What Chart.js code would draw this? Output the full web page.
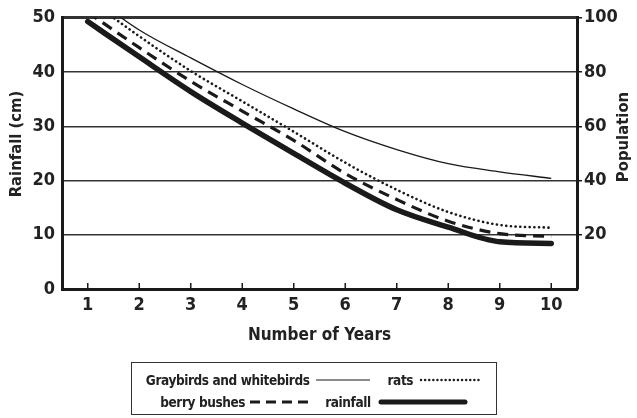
<!DOCTYPE html>
<html><head><meta charset="utf-8">
<script src="https://cdn.jsdelivr.net/npm/chart.js@4"></script>
<style>
html,body{margin:0;padding:0;background:#fff;}
#wrap{position:relative;width:637px;height:418px;}
#c{position:absolute;left:0;top:0;}
#legend{position:absolute;left:131px;top:362px;width:364px;height:51px;border:1.5px solid #333;
 font-family:'Liberation Sans Narrow','DejaVu Sans Condensed',sans-serif;font-weight:bold;font-size:13.5px;letter-spacing:-0.4px;color:#222;}
.row{position:absolute;left:0;right:0;display:flex;justify-content:center;align-items:center;height:20px;}
.row span{white-space:nowrap;}
.row svg{display:block;}
</style></head>
<body>
<div id="wrap"><canvas id="c" width="637" height="418"></canvas>
<div id="legend">
 <div class="row" style="top:7px;">
  <span>Graybirds and whitebirds</span>
  <svg width="54" height="10" style="margin-left:6px;"><line x1="0" y1="5" x2="54" y2="5" stroke="#1a1a1a" stroke-width="1.2"/></svg>
  <span style="margin-left:18px;">rats</span>
  <svg width="63" height="10" style="margin-left:6px;"><line x1="2" y1="5" x2="62" y2="5" stroke="#1a1a1a" stroke-width="2.4" stroke-dasharray="0.1 4" stroke-linecap="round"/></svg>
 </div>
 <div class="row" style="top:29px;">
  <span>berry bushes</span>
  <svg width="60" height="10" style="margin-left:5px;"><line x1="0" y1="5" x2="60" y2="5" stroke="#1a1a1a" stroke-width="3" stroke-dasharray="10 6"/></svg>
  <span style="margin-left:15px;">rainfall</span>
  <svg width="90" height="10" style="margin-left:7px;"><line x1="3" y1="5" x2="87" y2="5" stroke="#1a1a1a" stroke-width="5" stroke-linecap="round"/></svg>
 </div>
</div>
</div>
<script>
// ---- data ----
const years = [1, 2, 3, 4, 5, 6, 7, 8, 9, 10];
const rainfallTicks = [0, 10, 20, 30, 40, 50];
const populationTicks = [20, 40, 60, 80, 100];
// rainfall in cm (left axis)
const rainfall = [49.3, 42.8, 36.4, 30.6, 25.0, 19.5, 14.6, 11.4, 8.7, 8.4];
// populations (right axis)
const graybirds = [109, 95.5, 85.2, 75.4, 66.4, 58.0, 51.4, 46.2, 43.2, 40.8];
const rats = [107, 93.2, 80.4, 69.2, 58.0, 46.6, 36.6, 28.4, 23.6, 22.6];
const berryBushes = [102, 89.0, 76.6, 65.6, 54.8, 42.6, 33.0, 25.0, 20.4, 19.4];

const INK = '#1a1a1a';
const FONT = "'Liberation Sans Narrow','DejaVu Sans Condensed',sans-serif";

const framePlugin = {
  id: 'frame',
  afterDraw(chart) {
    const c = chart.ctx, x = chart.scales.x, a = chart.chartArea;
    c.save();
    c.strokeStyle = INK; c.lineWidth = 1.5;
    years.forEach((y, i) => {
      const px = x.getPixelForValue(i);
      c.beginPath(); c.moveTo(px, a.bottom); c.lineTo(px, a.bottom - 6); c.stroke();
    });
    c.fillStyle = '#222';
    c.font = "bold 16.5px " + FONT;
    c.textAlign = 'center'; c.textBaseline = 'middle';
    c.translate(17, 144); c.rotate(-Math.PI / 2);
    c.fillText('Rainfall (cm)', 0, 0);
    c.restore();
    c.save();
    c.fillStyle = '#222';
    c.font = "bold 16.5px " + FONT;
    c.textAlign = 'center'; c.textBaseline = 'middle';
    c.translate(624, 137); c.rotate(-Math.PI / 2);
    c.fillText('Population', 0, 0);
    c.restore();
  }
};

const common = { pointRadius: 0, borderColor: INK, fill: false, cubicInterpolationMode: 'monotone', clip: 0 };

new Chart(document.getElementById('c'), {
  type: 'line',
  data: {
    labels: years,
    datasets: [
      Object.assign({ label: 'Graybirds and whitebirds', data: graybirds, yAxisID: 'y2', borderWidth: 1.3 }, common),
      Object.assign({ label: 'rats', data: rats, yAxisID: 'y2', borderWidth: 2.6, borderDash: [0.1, 4.6], borderCapStyle: 'round' }, common),
      Object.assign({ label: 'berry bushes', data: berryBushes, yAxisID: 'y2', borderWidth: 3.2, borderDash: [11, 7] }, common),
      Object.assign({ label: 'rainfall', data: rainfall, yAxisID: 'y', borderWidth: 5.5, borderCapStyle: 'round' }, common)
    ]
  },
  options: {
    responsive: false, animation: false, devicePixelRatio: 1,
    layout: { padding: { top: 14, bottom: 68, left: 0, right: 0 } },
    plugins: { legend: { display: false }, tooltip: { enabled: false } },
    scales: {
      x: {
        type: 'category', offset: true,
        grid: { display: false, drawTicks: false },
        border: { display: true, width: 3, color: INK },
        ticks: { color: '#222', font: { family: FONT, size: 18, weight: 'bold' }, padding: 6 },
        title: { display: true, text: 'Number of Years', color: '#222', font: { family: FONT, size: 17, weight: 'bold' }, padding: { top: 11 } },
        afterFit: s => { s.height = 61; }
      },
      y: {
        position: 'left', min: 0, max: 50,
        afterBuildTicks: s => { s.ticks = rainfallTicks.map(v => ({ value: v })); },
        ticks: { color: '#222', font: { family: FONT, size: 18, weight: 'bold' }, padding: 7 },
        grid: { color: '#333', lineWidth: ctx => (ctx.tick && ctx.tick.value === 50) ? 3 : 1.5, drawTicks: false },
        border: { display: true, width: 3, color: INK },
        afterFit: s => { s.width = 62; }
      },
      y2: {
        position: 'right', min: 0, max: 100,
        afterBuildTicks: s => { s.ticks = populationTicks.map(v => ({ value: v })); },
        ticks: { color: '#222', font: { family: FONT, size: 18, weight: 'bold' }, padding: 2 },
        grid: { drawOnChartArea: false, tickLength: 5, color: INK, lineWidth: 1.5 },
        border: { display: true, width: 3, color: INK },
        afterFit: s => { s.width = 60; }
      }
    }
  },
  plugins: [framePlugin]
});
</script>
</body></html>
